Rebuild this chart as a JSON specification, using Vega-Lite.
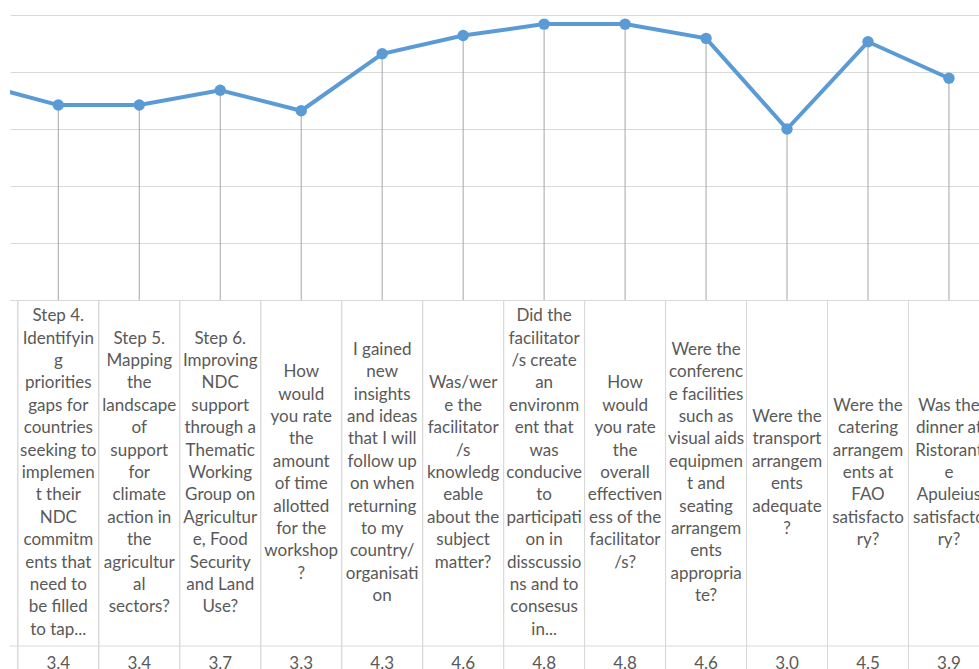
{
  "$schema": "https://vega.github.io/schema/vega-lite/v6.json",
  "padding": {"left": 10, "top": 15, "right": 0, "bottom": 0},
  "spacing": 0,
  "background": "white",
  "config": {
    "view": {"stroke": null},
    "font": "Lato",
    "concat": {"spacing": 0}
  },
  "data": {
    "values": [
      {"i": 0, "score": 3.8, "label": []},
      {"i": 1, "score": 3.42, "label": ["Step 4.", "Identifyin", "g", "priorities", "gaps for", "countries", "seeking to", "implemen", "t their", "NDC", "commitm", "ents that", "need to", "be filled", "to tap..."]},
      {"i": 2, "score": 3.42, "label": ["Step 5.", "Mapping", "the", "landscape", "of", "support", "for", "climate", "action in", "the", "agricultur", "al", "sectors?"]},
      {"i": 3, "score": 3.68, "label": ["Step 6.", "Improving", "NDC", "support", "through a", "Thematic", "Working", "Group on", "Agricultur", "e, Food", "Security", "and Land", "Use?"]},
      {"i": 4, "score": 3.32, "label": ["How", "would", "you rate", "the", "amount", "of time", "allotted", "for the", "workshop", "?"]},
      {"i": 5, "score": 4.32, "label": ["I gained", "new", "insights", "and ideas", "that I will", "follow up", "on when", "returning", "to my", "country/", "organisati", "on"]},
      {"i": 6, "score": 4.64, "label": ["Was/wer", "e the", "facilitator", "/s", "knowledg", "eable", "about the", "subject", "matter?"]},
      {"i": 7, "score": 4.84, "label": ["Did the", "facilitator", "/s create", "an", "environm", "ent that", "was", "conducive", "to", "participati", "on in", "disscussio", "ns and to", "consesus", "in..."]},
      {"i": 8, "score": 4.84, "label": ["How", "would", "you rate", "the", "overall", "effectiven", "ess of the", "facilitator", "/s?"]},
      {"i": 9, "score": 4.59, "label": ["Were the", "conferenc", "e facilities", "such as", "visual aids", "equipmen", "t and", "seating", "arrangem", "ents", "appropria", "te?"]},
      {"i": 10, "score": 3.0, "label": ["Were the", "transport", "arrangem", "ents", "adequate", "?"]},
      {"i": 11, "score": 4.53, "label": ["Were the", "catering", "arrangem", "ents at", "FAO", "satisfacto", "ry?"]},
      {"i": 12, "score": 3.89, "label": ["Was the", "dinner at", "Ristorant", "e", "Apuleius", "satisfacto", "ry?"]}
    ]
  },
  "vconcat": [
    {
      "width": 969,
      "height": 285,
      "encoding": {
        "x": {"field": "i", "type": "quantitative", "scale": {"domain": [0.4035, 12.371], "nice": false, "zero": false}, "axis": null}
      },
      "layer": [
        {
          "mark": {"type": "rule", "color": "#a6a6a6", "strokeWidth": 1, "clip": true},
          "encoding": {
            "y": {"field": "score", "type": "quantitative", "scale": {"domain": [0, 5], "nice": false},
              "axis": {"labels": false, "ticks": false, "domain": false, "title": null, "grid": true, "gridColor": "#d9d9d9", "gridWidth": 1, "tickCount": 5}},
            "y2": {"datum": 0}
          }
        },
        {
          "mark": {"type": "line", "color": "#5b9bd5", "strokeWidth": 4, "clip": true},
          "encoding": {"y": {"field": "score", "type": "quantitative"}}
        },
        {
          "mark": {"type": "point", "filled": true, "opacity": 1, "color": "#5b9bd5", "size": 130, "clip": true},
          "encoding": {"y": {"field": "score", "type": "quantitative"}}
        }
      ]
    },
    {
      "width": 969,
      "height": 346,
      "encoding": {
        "x": {"field": "i", "type": "quantitative", "scale": {"domain": [0.4035, 12.371], "nice": false, "zero": false}, "axis": null}
      },
      "layer": [
        {
          "transform": [{"calculate": "datum.i - 0.5", "as": "lo"}, {"calculate": "datum.i + 0.5", "as": "hi"}],
          "mark": {"type": "rect", "fill": null, "stroke": "#d9d9d9", "strokeWidth": 1, "clip": true},
          "encoding": {
            "x": {"field": "lo", "type": "quantitative", "scale": {"domain": [0.4035, 12.371], "nice": false, "zero": false}, "axis": null},
            "x2": {"field": "hi"}
          }
        },
        {
          "transform": [{"calculate": "(length(datum.label) - 1) / 2", "as": "lineOff"}],
          "mark": {"type": "text", "align": "center", "baseline": "middle", "fontSize": 17, "lineHeight": 22.4, "color": "#595959", "clip": true},
          "encoding": {
            "y": {"field": "lineOff", "type": "quantitative", "scale": {"domain": [-7.723, 7.723], "nice": false, "zero": false}, "axis": null},
            "text": {"field": "label"}
          }
        }
      ]
    },
    {
      "width": 969,
      "height": 36,
      "encoding": {
        "x": {"field": "i", "type": "quantitative", "scale": {"domain": [0.4035, 12.371], "nice": false, "zero": false}, "axis": null}
      },
      "layer": [
        {
          "transform": [{"calculate": "datum.i - 0.5", "as": "lo"}, {"calculate": "datum.i + 0.5", "as": "hi"}],
          "mark": {"type": "rect", "fill": null, "stroke": "#d9d9d9", "strokeWidth": 1, "clip": true},
          "encoding": {
            "x": {"field": "lo", "type": "quantitative", "scale": {"domain": [0.4035, 12.371], "nice": false, "zero": false}, "axis": null},
            "x2": {"field": "hi"}
          }
        },
        {
          "mark": {"type": "text", "align": "center", "baseline": "middle", "fontSize": 17, "color": "#595959", "clip": true},
          "encoding": {"text": {"field": "score", "type": "quantitative", "format": ".1f"}}
        }
      ]
    }
  ]
}
